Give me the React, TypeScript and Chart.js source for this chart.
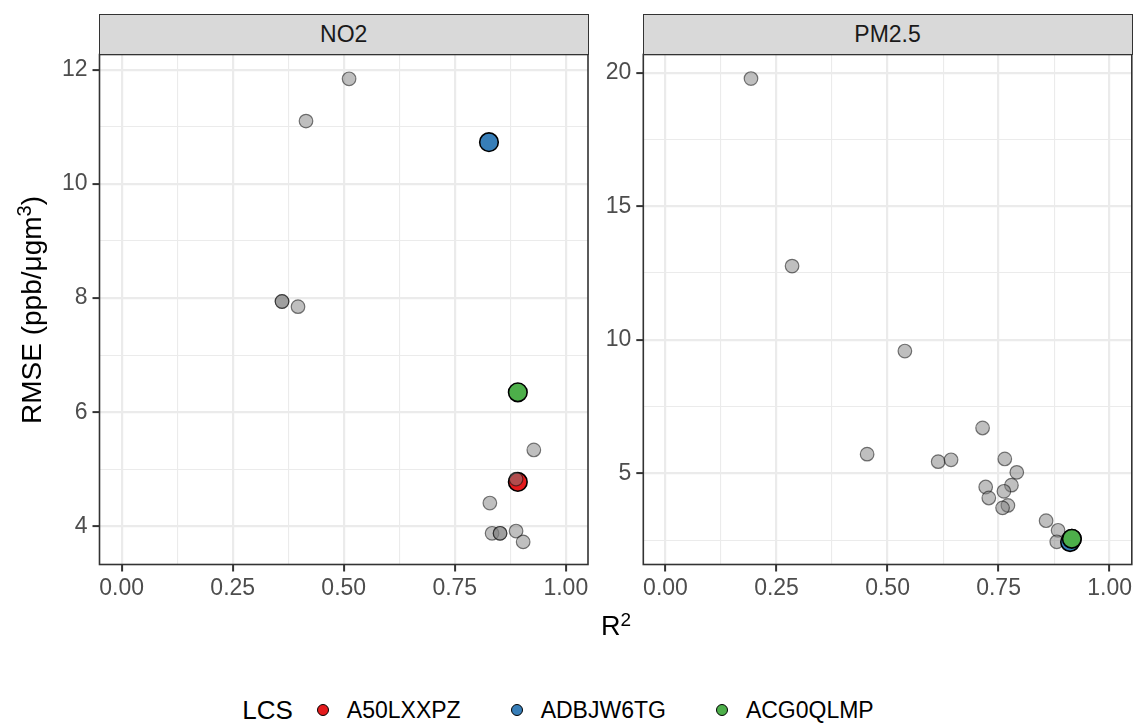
import React, { useEffect, useRef } from 'react';
import { Chart, registerables } from 'chart.js';

Chart.register(...registerables);

// ---------- axis ticks ----------
const xTicks = [0, 0.25, 0.5, 0.75, 1];
const xTickLabels = ['0.00', '0.25', '0.50', '0.75', '1.00'];
const xMinorTicks = [0.125, 0.375, 0.625, 0.875];

const no2YTicks = [4, 6, 8, 10, 12];
const no2YMinorTicks = [5, 7, 9, 11];
const pmYTicks = [5, 10, 15, 20];
const pmYMinorTicks = [2.5, 7.5, 12.5, 17.5];

// ---------- panel titles ----------
const panelNames = ['NO2', 'PM2.5'];

// ---------- other sensors (grey) ----------
const no2OtherR2 = [0.512, 0.415, 0.361, 0.361, 0.397, 0.928, 0.829, 0.834, 0.852, 0.852, 0.888, 0.904];
const no2OtherRMSE = [11.84, 11.1, 7.94, 7.94, 7.85, 5.34, 4.41, 3.88, 3.88, 3.88, 3.92, 3.73];
const no2OverlapR2 = [0.888];
const no2OverlapRMSE = [4.83];

const pmOtherR2 = [0.1925, 0.285, 0.539, 0.454, 0.614, 0.643, 0.714, 0.764, 0.791, 0.721, 0.728, 0.779, 0.762, 0.771, 0.759, 0.857, 0.884, 0.881];
const pmOtherRMSE = [19.78, 12.76, 9.58, 5.72, 5.44, 5.51, 6.7, 5.54, 5.04, 4.49, 4.08, 4.56, 4.33, 3.8, 3.71, 3.23, 2.87, 2.44];

// ---------- highlighted LCS ----------
const lcsNames = ['A50LXXPZ', 'ADBJW6TG', 'ACG0QLMP'];
const lcsColors = ['#E41A1C', '#377EB8', '#4DAF4A'];
const no2LcsR2 = [0.892, 0.827, 0.892];
const no2LcsRMSE = [4.78, 10.73, 6.35];
const pmLcsR2 = [0.915, 0.911, 0.915];
const pmLcsRMSE = [2.55, 2.43, 2.55];

// ---------- layout constants ----------
const FONT = '"Liberation Sans", Arial, Helvetica, sans-serif';
const CANVAS_H = 620;
const PANEL_TOP = 54.5;
const PANEL_BOTTOM = 564.5;
const X_MIN = -0.05;
const X_MAX = 1.05;

const borderPlugin = {
  id: 'panelBorder',
  afterDraw(chart: any) {
    const { ctx, chartArea } = chart;
    ctx.save();
    ctx.strokeStyle = '#333333';
    ctx.lineWidth = 1.6;
    ctx.strokeRect(chartArea.left, chartArea.top, chartArea.right - chartArea.left, chartArea.bottom - chartArea.top);
    ctx.restore();
  },
};

function pts(xs: number[], ys: number[]) {
  return xs.map((x, i) => ({ x, y: ys[i] }));
}

function greySet(xs: number[], ys: number[]) {
  return {
    data: pts(xs, ys),
    pointRadius: 6.8,
    pointBackgroundColor: 'rgba(127,127,127,0.5)',
    pointBorderColor: 'rgba(0,0,0,0.5)',
    pointBorderWidth: 1.2,
    showLine: false,
  };
}

function lcsSets(xs: number[], ys: number[]) {
  // first dataset is drawn on top in Chart.js -> reverse so last LCS is on top
  return lcsNames
    .map((name, i) => ({
      label: name,
      data: [{ x: xs[i], y: ys[i] }],
      pointRadius: 9.3,
      pointBackgroundColor: lcsColors[i],
      pointBorderColor: '#000000',
      pointBorderWidth: 1.6,
      showLine: false,
    }))
    .reverse();
}

function gridOpts(major: number[]) {
  return {
    color: '#EBEBEB',
    lineWidth: (c: any) => (major.includes(c.tick?.value) ? 2.2 : 1.1),
    drawTicks: true,
    tickLength: 7,
    tickWidth: 2,
    tickColor: (c: any) => (major.includes(c.tick?.value) ? '#333333' : 'rgba(0,0,0,0)'),
  };
}

function buildChart(
  canvas: HTMLCanvasElement,
  cfg: {
    yMin: number;
    yMax: number;
    yMajor: number[];
    yMinor: number[];
    yAxisWidth: number;
    padRight: number;
    datasets: any[];
  }
) {
  const xAll = [...xTicks, ...xMinorTicks].sort((a, b) => a - b);
  const yAll = [...cfg.yMajor, ...cfg.yMinor].filter((v) => v >= cfg.yMin && v <= cfg.yMax).sort((a, b) => a - b);
  return new Chart(canvas, {
    type: 'scatter',
    data: { datasets: cfg.datasets },
    options: {
      animation: false,
      responsive: false,
      maintainAspectRatio: false,
      events: [],
      layout: { padding: { top: PANEL_TOP, right: cfg.padRight, bottom: 0, left: 0 } },
      plugins: { legend: { display: false }, tooltip: { enabled: false } },
      scales: {
        x: {
          type: 'linear',
          min: X_MIN,
          max: X_MAX,
          afterBuildTicks: (s: any) => {
            s.ticks = xAll.map((v) => ({ value: v }));
          },
          afterFit: (s: any) => {
            s.height = CANVAS_H - PANEL_BOTTOM;
          },
          grid: gridOpts(xTicks),
          border: { display: false },
          ticks: {
            autoSkip: false,
            maxRotation: 0,
            padding: 3,
            color: '#4D4D4D',
            font: { family: FONT, size: 23 },
            callback: (v: any) => {
              const i = xTicks.indexOf(Number(v));
              return i >= 0 ? xTickLabels[i] : '';
            },
          },
        },
        y: {
          type: 'linear',
          min: cfg.yMin,
          max: cfg.yMax,
          afterBuildTicks: (s: any) => {
            s.ticks = yAll.map((v) => ({ value: v }));
          },
          afterFit: (s: any) => {
            s.width = cfg.yAxisWidth;
          },
          grid: gridOpts(cfg.yMajor),
          border: { display: false },
          ticks: {
            autoSkip: false,
            padding: 5,
            color: '#4D4D4D',
            font: { family: FONT, size: 23 },
            callback: (v: any) => (cfg.yMajor.includes(Number(v)) ? String(v) : ''),
          },
        },
      },
    },
    plugins: [borderPlugin],
  } as any);
}

const P1 = { canvasLeft: 0, canvasWidth: 600, panelLeft: 99.5, panelRight: 588 };
const P2 = { canvasLeft: 600, canvasWidth: 560, panelLeft: 643.3, panelRight: 1131.8 };

export default function App() {
  const ref1 = useRef<HTMLCanvasElement>(null);
  const ref2 = useRef<HTMLCanvasElement>(null);

  useEffect(() => {
    const c1 = buildChart(ref1.current!, {
      yMin: 3.334,
      yMax: 12.266,
      yMajor: no2YTicks,
      yMinor: no2YMinorTicks,
      yAxisWidth: P1.panelLeft - P1.canvasLeft,
      padRight: P1.canvasLeft + P1.canvasWidth - P1.panelRight,
      datasets: [greySet(no2OverlapR2, no2OverlapRMSE), ...lcsSets(no2LcsR2, no2LcsRMSE), greySet(no2OtherR2, no2OtherRMSE)],
    });
    const c2 = buildChart(ref2.current!, {
      yMin: 1.59,
      yMax: 20.68,
      yMajor: pmYTicks,
      yMinor: pmYMinorTicks,
      yAxisWidth: P2.panelLeft - P2.canvasLeft,
      padRight: P2.canvasLeft + P2.canvasWidth - P2.panelRight,
      datasets: [...lcsSets(pmLcsR2, pmLcsRMSE), greySet(pmOtherR2, pmOtherRMSE)],
    });
    return () => {
      c1.destroy();
      c2.destroy();
    };
  }, []);

  const strip = (p: typeof P1, text: string) => (
    <div
      style={{
        position: 'absolute',
        left: p.panelLeft - 0.8,
        top: 14,
        width: p.panelRight - p.panelLeft + 1.6,
        height: PANEL_TOP - 14 + 0.8,
        boxSizing: 'border-box',
        background: '#D9D9D9',
        border: '1.6px solid #333333',
        display: 'flex',
        alignItems: 'center',
        justifyContent: 'center',
        fontSize: 23,
        color: '#1A1A1A',
        fontFamily: FONT,
      }}
    >
      {text}
    </div>
  );

  return (
    <div
      style={{
        position: 'fixed',
        left: 0,
        top: 0,
        width: 1133,
        height: 725,
        overflow: 'hidden',
        background: '#FFFFFF',
        fontFamily: FONT,
      }}
    >
      <canvas
        ref={ref1}
        width={P1.canvasWidth}
        height={CANVAS_H}
        style={{ position: 'absolute', left: P1.canvasLeft, top: 0, width: P1.canvasWidth, height: CANVAS_H }}
      />
      <canvas
        ref={ref2}
        width={P2.canvasWidth}
        height={CANVAS_H}
        style={{ position: 'absolute', left: P2.canvasLeft, top: 0, width: P2.canvasWidth, height: CANVAS_H }}
      />
      {strip(P1, panelNames[0])}
      {strip(P2, panelNames[1])}

      {/* y axis title */}
      <div
        style={{
          position: 'absolute',
          left: 32 - 200,
          top: (PANEL_TOP + PANEL_BOTTOM) / 2 - 17,
          width: 400,
          height: 34,
          lineHeight: '34px',
          textAlign: 'center',
          transform: 'rotate(-90deg)',
          fontSize: 28,
          color: '#000000',
          whiteSpace: 'nowrap',
        }}
      >
        RMSE (ppb/μgm<sup style={{ fontSize: 20, verticalAlign: 10, lineHeight: 0 }}>3</sup>)
      </div>

      {/* x axis title */}
      <div
        style={{
          position: 'absolute',
          left: 616 - 100,
          top: 613,
          width: 200,
          height: 30,
          lineHeight: '27px',
          textAlign: 'center',
          fontSize: 27,
          color: '#000000',
        }}
      >
        R<sup style={{ fontSize: 19, verticalAlign: 9, lineHeight: 0 }}>2</sup>
      </div>

      {/* legend */}
      <div
        style={{
          position: 'absolute',
          left: 0,
          top: 692,
          width: 1116,
          height: 36,
          display: 'flex',
          alignItems: 'center',
          justifyContent: 'center',
          color: '#000000',
        }}
      >
        <span style={{ fontSize: 26, marginRight: 24 }}>LCS</span>
        {lcsNames.map((n, i) => (
          <span key={n} style={{ display: 'flex', alignItems: 'center', marginRight: i < lcsNames.length - 1 ? 50 : 0 }}>
            <span
              style={{
                display: 'inline-block',
                width: 10,
                height: 10,
                borderRadius: '50%',
                background: lcsColors[i],
                border: '1px solid #000',
                marginRight: 18,
              }}
            />
            <span style={{ fontSize: 23 }}>{n}</span>
          </span>
        ))}
      </div>
    </div>
  );
}
